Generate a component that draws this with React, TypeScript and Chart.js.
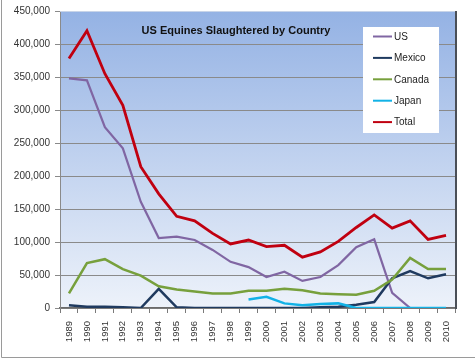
import React, { useEffect, useRef } from "react";
import { Chart, registerables } from "chart.js";
Chart.register(...registerables);

const years = ["1989","1990","1991","1992","1993","1994","1995","1996","1997","1998","1999","2000","2001","2002","2003","2004","2005","2006","2007","2008","2009","2010"];
const usValues = [348000,345000,274000,242000,161000,106000,108000,103000,88000,70000,62000,47000,55000,41000,47000,65000,92000,104000,23000,0,null,null];
const mexicoValues = [4000,2000,2000,1000,0,29000,1000,0,0,0,0,0,0,0,1000,2000,5000,9000,45000,56000,45000,51000];
const canadaValues = [22000,68000,74000,59000,49000,33000,28000,25000,22000,22000,26000,26000,29000,27000,22000,21000,20000,26000,43000,76000,59000,59000];
const japanValues = [null,null,null,null,null,null,null,null,null,null,13000,17000,7000,4000,6000,7000,0,0,0,0,0,0];
const totalValues = [378000,420000,355000,307000,214000,173000,139000,132000,113000,97000,103000,93000,95000,77000,85000,101000,122000,141000,121000,132000,104000,110000];
const titleText = "US Equines Slaughtered by Country";

const decor = {
  id: "decor",
  beforeDraw(chart: any) {
    const { ctx, chartArea: a } = chart;
    ctx.save();
    const g = ctx.createLinearGradient(0, a.top, 0, a.bottom);
    g.addColorStop(0, "#94b2e4");
    g.addColorStop(1, "#edf2fa");
    ctx.fillStyle = g;
    ctx.fillRect(a.left, a.top, a.right - a.left, a.bottom - a.top);
    ctx.restore();
  },
  afterDraw(chart: any) {
    const { ctx, chartArea: a } = chart;
    ctx.save();
    ctx.strokeStyle = "#c8d4e8";
    ctx.lineWidth = 1;
    ctx.beginPath();
    ctx.moveTo(a.left, a.top + 0.5);
    ctx.lineTo(a.right, a.top + 0.5);
    ctx.stroke();
    ctx.strokeStyle = "#4a4f57";
    ctx.lineWidth = 2;
    ctx.beginPath();
    ctx.moveTo(a.right + 1, a.top);
    ctx.lineTo(a.right + 1, a.bottom + 1);
    ctx.stroke();
    ctx.strokeStyle = "#9a9a9a";
    ctx.lineWidth = 1;
    ctx.beginPath();
    ctx.moveTo(1.5, 0);
    ctx.lineTo(1.5, 357.5);
    ctx.lineTo(475, 357.5);
    ctx.stroke();
    ctx.fillStyle = "#111";
    ctx.font = "bold 11px 'Liberation Sans', Arial, sans-serif";
    ctx.textAlign = "center";
    ctx.textBaseline = "middle";
    ctx.fillText(titleText, 236, 31);
    ctx.fillStyle = "#ffffff";
    ctx.fillRect(363, 27, 76, 106);
    ctx.font = "10px 'Liberation Sans', Arial, sans-serif";
    ctx.textAlign = "left";
    const ds = chart.data.datasets;
    ds.forEach((d: any, i: number) => {
      const y = 36.5 + i * 21.4;
      ctx.strokeStyle = d.borderColor;
      ctx.lineWidth = 2;
      ctx.beginPath();
      ctx.moveTo(373, y);
      ctx.lineTo(392, y);
      ctx.stroke();
      ctx.fillStyle = "#222";
      ctx.fillText(d.label, 394, y + 0.5);
    });
    ctx.restore();
  },
};

export default function App() {
  const ref = useRef<HTMLCanvasElement>(null);
  useEffect(() => {
    document.body.style.margin = "0";
    const mk = (label: string, data: any[], color: string, width: number, order: number) => ({
      label, data, borderColor: color, backgroundColor: color, borderWidth: width,
      pointRadius: 0, pointHoverRadius: 0, tension: 0, fill: false, order, spanGaps: false,
    });
    const chart = new Chart(ref.current!, {
      type: "line",
      data: {
        labels: years,
        datasets: [
          mk("US", usValues, "#8066a3", 2.2, 5),
          mk("Mexico", mexicoValues, "#1f3a5f", 2.5, 4),
          mk("Canada", canadaValues, "#77a03c", 2.5, 3),
          mk("Japan", japanValues, "#12b2e6", 2.5, 2),
          mk("Total", totalValues, "#c00010", 2.8, 1),
        ],
      },
      options: {
        responsive: false,
        animation: false,
        devicePixelRatio: 1,
        events: [],
        layout: { padding: { left: 0, top: 11, right: 20, bottom: 0 } },
        plugins: { legend: { display: false }, title: { display: false }, tooltip: { enabled: false } },
        scales: {
          x: {
            offset: true,
            grid: { display: true, drawOnChartArea: false, offset: true, tickLength: 5, color: "#7a7a7a" },
            border: { display: true, color: "#6a6a6a", width: 1.5 },
            ticks: {
              autoSkip: false, minRotation: 90, maxRotation: 90, padding: 8,
              color: "#333", font: { family: "'Liberation Sans', Arial, sans-serif", size: 9.5 },
            },
            afterFit: (s: any) => { s.height = 52; },
          },
          y: {
            min: 0, max: 450000,
            ticks: {
              stepSize: 50000, padding: 5, color: "#333",
              font: { family: "'Liberation Sans', Arial, sans-serif", size: 10 },
              callback: (v: any) => Number(v).toLocaleString("en-US"),
            },
            grid: { color: "#8a8a8a", lineWidth: 1, tickLength: 5 },
            border: { display: true, color: "#8a8a8a" },
            afterFit: (s: any) => { s.width = 60; },
          },
        },
      },
      plugins: [decor],
    });
    return () => chart.destroy();
  }, []);
  return (
    <div style={{ width: 475, height: 360, background: "#fff" }}>
      <canvas ref={ref} width={475} height={360} style={{ display: "block" }} />
    </div>
  );
}
